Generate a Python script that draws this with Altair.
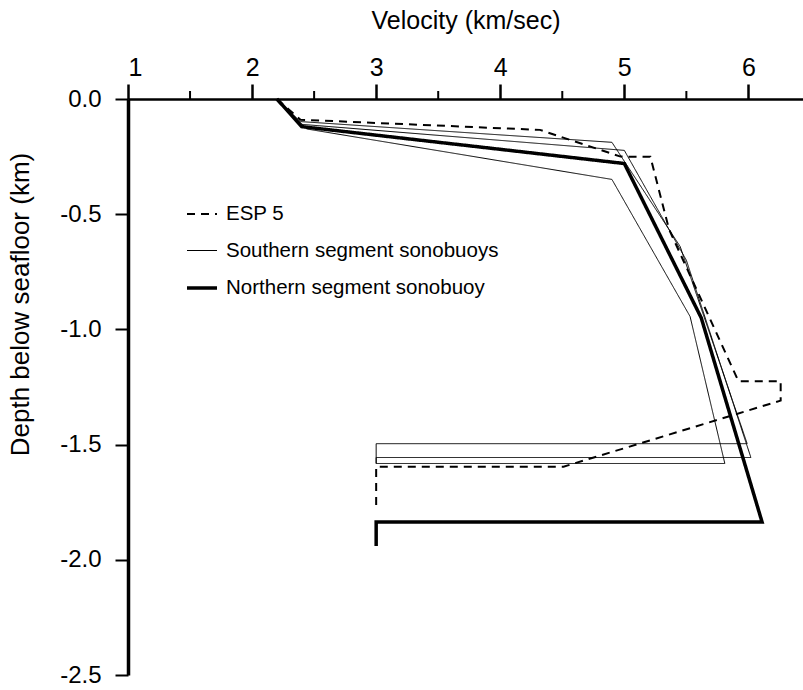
import altair as alt
import pandas as pd

# ---- data (velocity km/s, depth km) ----
series_names = ["ESP 5", "Southern segment sonobuoys", "Northern segment sonobuoy"]

esp_v = [2.20, 2.39, 4.32, 4.97, 5.21, 5.36, 5.92, 6.26, 6.26, 4.51, 3.00, 3.00]
esp_d = [0.00, -0.09, -0.134, -0.25, -0.251, -0.565, -1.225, -1.225, -1.309, -1.596, -1.596, -1.772]

south_a_v = [2.20, 2.39, 4.90, 5.45, 5.99, 3.00, 3.00]
south_a_d = [0.00, -0.098, -0.188, -0.64, -1.496, -1.496, -1.582]
south_b_v = [2.20, 2.40, 5.00, 5.50, 6.02, 3.00, 3.00]
south_b_d = [0.00, -0.11, -0.223, -0.70, -1.556, -1.556, -1.582]
south_c_v = [2.20, 2.44, 4.90, 5.53, 5.81, 3.00]
south_c_d = [0.00, -0.13, -0.349, -0.944, -1.582, -1.582]

north_v = [2.20, 2.40, 5.00, 5.62, 6.11, 3.00, 3.00]
north_d = [0.00, -0.12, -0.28, -0.95, -1.836, -1.836, -1.94]

x_major = [1, 2, 3, 4, 5, 6]
x_minor = [1.5, 2.5, 3.5, 4.5, 5.5]
y_ticks = [0.0, -0.5, -1.0, -1.5, -2.0, -2.5]

rows = []
def add(series, line, vs, ds):
    for i, (v, d) in enumerate(zip(vs, ds)):
        rows.append({"series": series, "line": line, "idx": i, "v": v, "d": d})

add(series_names[1], "s_a", south_a_v, south_a_d)
add(series_names[1], "s_b", south_b_v, south_b_d)
add(series_names[1], "s_c", south_c_v, south_c_d)
add(series_names[0], "esp", esp_v, esp_d)
add(series_names[2], "north", north_v, north_d)
df = pd.DataFrame(rows)
minor_df = pd.DataFrame({"v": x_minor})

FONT = "Liberation Sans"

x_axis = alt.Axis(
    orient="top", values=x_major, format="d", title="Velocity (km/sec)",
    grid=False, tickSize=15, tickWidth=2.5, domainWidth=2.5,
    domainColor="black", tickColor="black", labelColor="black", titleColor="black",
    labelFont=FONT, titleFont=FONT, labelFontSize=25, titleFontSize=25,
    titleFontWeight="normal", labelPadding=4, titlePadding=22,
)
x_enc = alt.X("v:Q", scale=alt.Scale(domain=[1, 6.44], nice=False, zero=False), axis=x_axis)

y_axis = alt.Axis(
    values=y_ticks, title="Depth below seafloor (km)",
    labelExpr="replace(format(datum.value, '.1f'), '\u2212', '-')",
    grid=False, tickSize=13, tickWidth=2, domainWidth=3.5,
    domainColor="black", tickColor="black", labelColor="black", titleColor="black",
    labelFont=FONT, titleFont=FONT, labelFontSize=24, titleFontSize=26,
    titleFontWeight="normal", labelPadding=14,
    titleAngle=-90, titleX=-95, titleY=205, titleAlign="center", titleBaseline="bottom",
)
y_enc = alt.Y("d:Q", scale=alt.Scale(domain=[-2.5, 0], nice=False, zero=False), axis=y_axis)

legend = alt.Legend(
    title=None, orient="none", legendX=57, legendY=99,
    symbolType="stroke", symbolSize=900, symbolStrokeColor="black",
    labelFont=FONT, labelFontSize=20.5, labelColor="black", labelOffset=7,
    labelLimit=500, rowPadding=10,
)

lines = alt.Chart(df).mark_line(color="black", strokeCap="butt", strokeJoin="miter").encode(
    x=x_enc,
    y=y_enc,
    detail="line:N",
    order="idx:Q",
    strokeDash=alt.StrokeDash(
        "series:N",
        scale=alt.Scale(type="ordinal", domain=series_names, range=[[8, 6], [1, 0], [1, 0]]),
        legend=legend,
    ),
    strokeWidth=alt.StrokeWidth(
        "series:N",
        scale=alt.Scale(type="ordinal", domain=series_names, range=[2, 1, 3.5]),
        legend=legend,
    ),
)

minor = alt.Chart(minor_df).mark_rule(color="black", strokeWidth=2).encode(
    x=x_enc, y=alt.value(-8), y2=alt.value(0)
)

chart = alt.layer(lines, minor).properties(
    width=675, height=576,
    padding={"left": 128, "top": 99, "right": 0, "bottom": 15},
    autosize=alt.AutoSizeParams(type="none"),
    background="white",
).configure_view(stroke=None)

chart.save("out.html", embed_options={"renderer": "svg", "actions": False})
